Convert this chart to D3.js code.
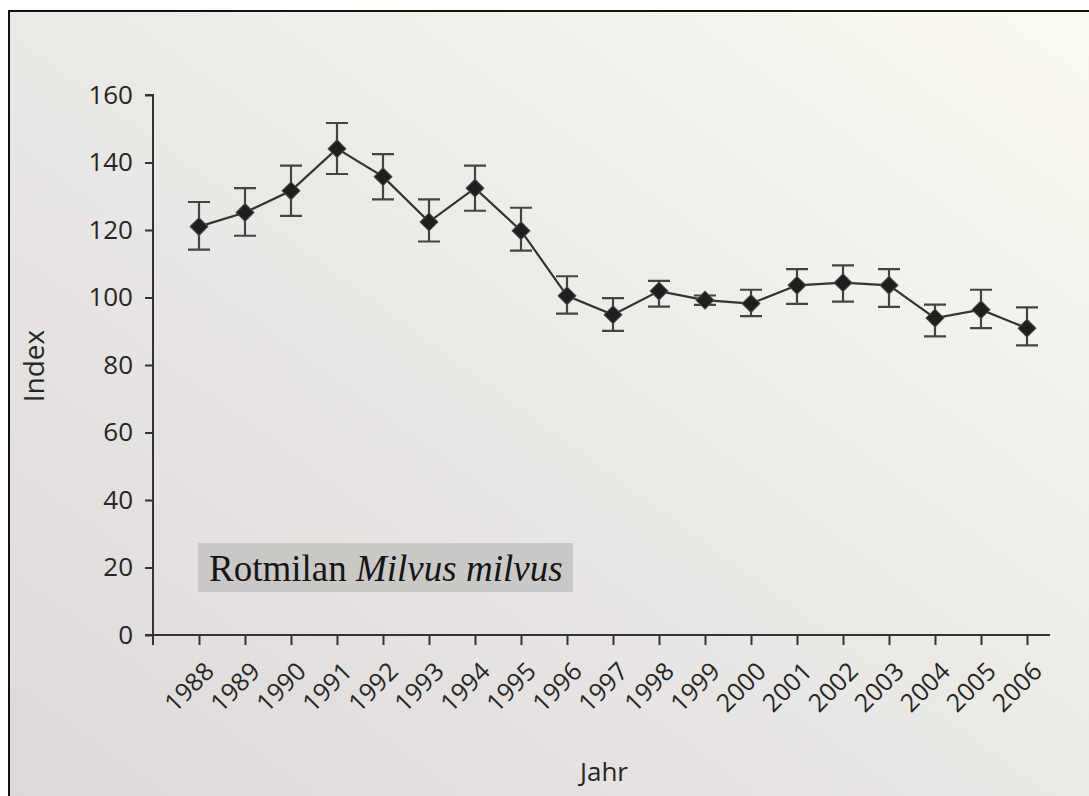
<!DOCTYPE html>
<html>
<head>
<meta charset="utf-8">
<title>Rotmilan Index</title>
<style>
    body { margin: 0; background: #fff; }
    .tick text { font-family: "Open Sans", sans-serif; fill: #262626; }
    .axis-label { font-family: "Open Sans", sans-serif; fill: #262626; }
</style>
</head>
<body>
<svg width="1089" height="796"></svg>
<script src="https://d3js.org/d3.v7.min.js"></script>
<script>

var years = [1988, 1989, 1990, 1991, 1992, 1993, 1994, 1995, 1996, 1997,
             1998, 1999, 2000, 2001, 2002, 2003, 2004, 2005, 2006];
var index = [121.0, 125.2, 131.6, 144.1, 135.8, 122.4, 132.4, 119.8, 100.5, 94.9,
             101.9, 99.2, 98.2, 103.6, 104.4, 103.6, 93.9, 96.4, 90.9];
var upper = [128.3, 132.4, 139.1, 151.7, 142.5, 129.1, 139.1, 126.6, 106.3, 99.8,
             104.9, 100.6, 102.3, 108.4, 109.5, 108.4, 97.9, 102.3, 97.1];
var lower = [114.2, 118.3, 124.2, 136.6, 129.1, 116.6, 125.7, 113.9, 95.2, 90.1,
             97.3, 97.8, 94.5, 98.1, 98.8, 97.2, 88.5, 90.9, 85.8];
var yTicks = [0, 20, 40, 60, 80, 100, 120, 140, 160];

var svg = d3.select("svg");

// paper background of the photo
var defs = svg.append("defs");
var grad = defs.append("linearGradient").attr("id", "paper")
    .attr("x1", "0").attr("y1", "1").attr("x2", "1").attr("y2", "0");
grad.append("stop").attr("offset", "0").attr("stop-color", "#dcd9d8");
grad.append("stop").attr("offset", "0.45").attr("stop-color", "#eae8e6");
grad.append("stop").attr("offset", "1").attr("stop-color", "#fbfaf2");

svg.append("rect")
    .attr("x", 9).attr("y", 11).attr("width", 1082).attr("height", 790)
    .attr("fill", "url(#paper)")
    .attr("stroke", "#111").attr("stroke-width", 2);

var x = d3.scaleLinear().domain([1987, 2006]).range([153, 1027]);
var y = d3.scaleLinear().domain([0, 160]).range([635, 95]);

// y axis
var yAxis = svg.append("g")
    .attr("transform", "translate(" + x(1987) + ",0)")
    .call(d3.axisLeft(y).tickValues(yTicks).tickSize(8).tickPadding(12));
yAxis.select(".domain").attr("d", "M-8," + y(160) + "H0V" + y(0));
yAxis.selectAll("line, path").attr("stroke", "#333").attr("stroke-width", 2);
yAxis.selectAll("text").style("font-size", "26px");

// x axis
var xAxis = svg.append("g")
    .attr("transform", "translate(0," + y(0) + ")")
    .call(d3.axisBottom(x).tickValues(years).tickSize(10).tickFormat(d3.format("d")));
xAxis.select(".domain").attr("d", "M" + (x(1987) - 8) + ",0H1050");
xAxis.selectAll("line, path").attr("stroke", "#333").attr("stroke-width", 2);
xAxis.selectAll("text")
    .style("font-size", "25px")
    .attr("text-anchor", "end")
    .attr("dy", null)
    .attr("y", null)
    .attr("transform", "translate(16,38) rotate(-45)");
// the tick at the y axis itself
xAxis.append("line").attr("x1", x(1987)).attr("x2", x(1987))
    .attr("y1", 0).attr("y2", 10).attr("stroke", "#333").attr("stroke-width", 2);

svg.append("text").attr("class", "axis-label")
    .attr("transform", "translate(44,366) rotate(-90)")
    .attr("text-anchor", "middle")
    .style("font-size", "28px")
    .text("Index");

svg.append("text").attr("class", "axis-label")
    .attr("x", 604).attr("y", 781)
    .attr("text-anchor", "middle")
    .style("font-size", "26px")
    .text("Jahr");

// species label box
svg.append("rect")
    .attr("x", 198).attr("y", 543).attr("width", 375).attr("height", 49)
    .attr("fill", "#c6c5c3").attr("opacity", 0.9);
var title = svg.append("text")
    .attr("x", 209).attr("y", 581)
    .style("font-family", "'Liberation Serif', 'DejaVu Serif', serif")
    .style("font-size", "37px")
    .attr("fill", "#151515");
title.append("tspan").text("Rotmilan ");
title.append("tspan").style("font-style", "italic").text("Milvus milvus");

var data = years.map(function(d, i) {
    return { year: d, v: index[i], hi: upper[i], lo: lower[i] };
});

// error bars
var eb = svg.append("g").attr("stroke", "#444").attr("stroke-width", 2.2).attr("fill", "none");
data.forEach(function(d) {
    var cx = x(d.year);
    eb.append("path").attr("d",
        "M" + (cx - 11) + "," + y(d.hi) + "H" + (cx + 11) +
        "M" + cx + "," + y(d.hi) + "V" + y(d.lo) +
        "M" + (cx - 11) + "," + y(d.lo) + "H" + (cx + 11));
});

var line = d3.line()
    .x(function(d) { return x(d.year); })
    .y(function(d) { return y(d.v); });

svg.append("path")
    .datum(data)
    .attr("d", line)
    .attr("fill", "none")
    .attr("stroke", "#333")
    .attr("stroke-width", 2.2);

var sym = d3.symbol().type(d3.symbolSquare).size(160);
svg.selectAll(".pt")
    .data(data)
    .enter().append("path")
    .attr("class", "pt")
    .attr("d", sym)
    .attr("fill", "#1e1e1e")
    .attr("stroke", "#4a4a4a")
    .attr("stroke-width", 1)
    .attr("transform", function(d) { return "translate(" + x(d.year) + "," + y(d.v) + ") rotate(45)"; });

</script>
</body>
</html>
